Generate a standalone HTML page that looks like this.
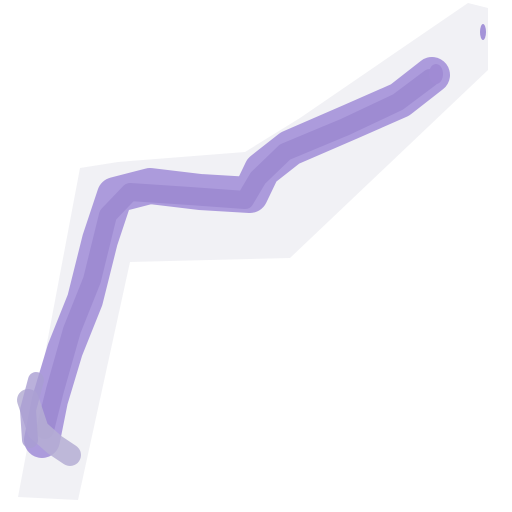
<!DOCTYPE html>
<html><head><meta charset="utf-8"><style>
html,body{margin:0;padding:0;background:#fff;}
svg{display:block;}
</style></head><body>
<svg width="512" height="512" viewBox="0 0 512 512">
  <polygon
    points="468,3 488,8 488,70 290,258 130,262 78,500 18,497 80,168 118,162 245,152 300,118"
    fill="#f1f1f5"/>
  <g fill="none" stroke-linecap="round" stroke-linejoin="round">
    <polyline points="432,75 400,100 350,122 290,148 262,170 250,195 200,192 150,186 115,195 100,240 85,300 65,350 50,400 42,440"
      stroke="#a896da" stroke-width="36" opacity="0.95"/>
    <polyline points="430,78 398,102 345,127 285,152 258,178 245,200 190,196 130,192 108,215 92,280 72,330 55,390 45,430"
      stroke="#9580cc" stroke-width="18" opacity="0.6"/>
    <polyline points="28,400 38,430 55,445 70,455" stroke="#b5aed4" stroke-width="22" opacity="0.85"/>
    <polyline points="36,380 28,410 30,440" stroke="#a99ed2" stroke-width="16" opacity="0.8"/>
    <ellipse cx="436" cy="74" rx="7" ry="10" fill="#a08bd4"/>
    <ellipse cx="483" cy="32" rx="3" ry="8" fill="#a493d8"/>
  </g>
</svg>
</body></html>
